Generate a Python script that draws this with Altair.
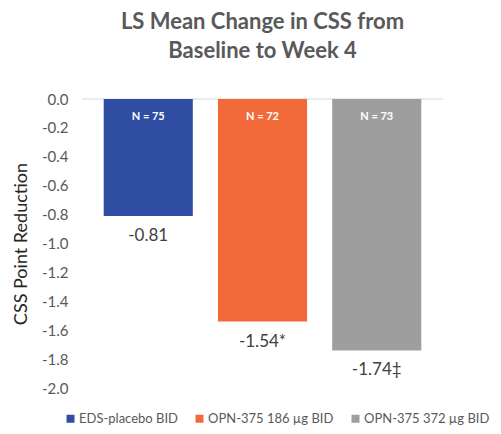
import altair as alt
import pandas as pd

groups = ["EDS-placebo BID", "OPN-375 186 µg BID", "OPN-375 372 µg BID"]
values = [-0.81, -1.54, -1.74]
suffixes = ["", "*", "‡"]
n_counts = [75, 72, 73]
colors = ["#2E4DA3", "#F36A3A", "#9E9E9E"]
y_ticks = [0.0, -0.2, -0.4, -0.6, -0.8, -1.0, -1.2, -1.4, -1.6, -1.8, -2.0]

df = pd.DataFrame({
    "group": groups,
    "value": values,
    "label": [f"{v:.2f}{s}" for v, s in zip(values, suffixes)],
    "nlabel": [f"N = {n}" for n in n_counts],
    "zero": [0.0] * len(groups),
})

FONT = "Lato"

x_enc = alt.X("group:N", sort=groups, axis=None,
              scale=alt.Scale(paddingInner=0.22, paddingOuter=0.19))
y_scale = alt.Scale(domain=[-2, 0], nice=False, zero=False)
y_axis = alt.Axis(values=y_ticks, domain=False, ticks=False, grid=False,
                  labelOverlap=False,
                  labelExpr="replace(format(datum.value, '.1f'), '\u2212', '-')",
                  labelFont=FONT, labelFontSize=15, labelColor="#595959",
                  labelPadding=14,
                  title="CSS Point Reduction", titleFont=FONT, titleFontSize=18,
                  titleFontWeight="normal", titleColor="#262626", titlePadding=11)

rule = alt.Chart(pd.DataFrame({"y": [0.0]})).mark_rule(color="#D9D9D9", strokeWidth=1).encode(
    y=alt.Y("y:Q", scale=y_scale, axis=y_axis)
)

bars = alt.Chart(df).mark_bar().encode(
    x=x_enc,
    y=alt.Y("value:Q", scale=y_scale, axis=y_axis),
    y2=alt.Y2("zero:Q"),
    color=alt.Color("group:N", sort=groups,
                    scale=alt.Scale(domain=groups, range=colors),
                    legend=alt.Legend(title=None, orient="none", direction="horizontal",
                                      legendX=-18, legendY=313,
                                      symbolType="square", symbolSize=64,
                                      symbolStrokeWidth=0, symbolOpacity=1,
                                      labelFont=FONT, labelFontSize=13, labelColor="#595959",
                                      labelOffset=2, columnPadding=15)),
)

nlabels = alt.Chart(df).mark_text(color="white", fontWeight="bold", font=FONT,
                                  fontSize=11, dy=18).encode(
    x=x_enc,
    y=alt.Y("zero:Q", scale=y_scale, axis=y_axis),
    text="nlabel:N",
)

vlabels = alt.Chart(df).mark_text(color="#404040", font=FONT, fontSize=17,
                                  baseline="middle", dy=20).encode(
    x=x_enc,
    y=alt.Y("value:Q", scale=y_scale, axis=y_axis),
    text="label:N",
)

chart = alt.layer(rule, bars, nlabels, vlabels).properties(
    width=361, height=289,
    autosize=alt.AutoSizeParams(type="none"),
    padding={"left": 74, "top": 91, "right": 50, "bottom": 44},
    title=alt.Title(["LS Mean Change in CSS from", "Baseline to Week 4"],
                    font=FONT, fontSize=22, fontWeight="bold", color="#595959",
                    lineHeight=29, anchor="middle", offset=29),
).configure_view(stroke=None)

chart.save("out.html", embed_options={"renderer": "svg", "actions": False})
